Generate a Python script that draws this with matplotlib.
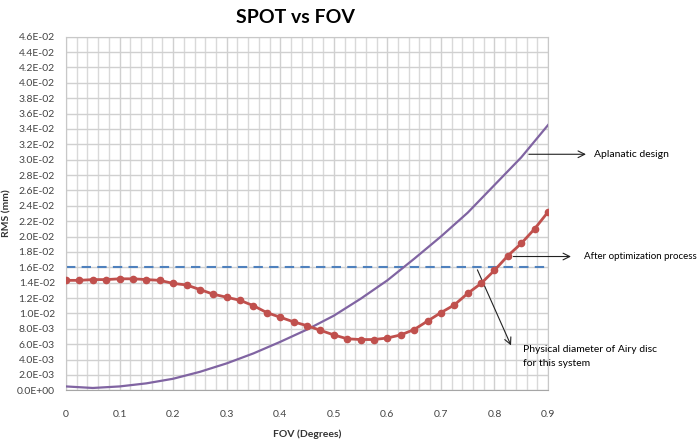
import matplotlib
matplotlib.use('Agg')

import matplotlib.pyplot as plt
import numpy as np
from matplotlib.ticker import MultipleLocator, FuncFormatter

plt.rcParams['font.family'] = ['Lato', 'DejaVu Sans']

# optimized system, one point every 0.025 deg
fov_opt = [0.0, 0.025, 0.05, 0.075, 0.1, 0.125, 0.15, 0.175, 0.2, 0.225,
           0.25, 0.275, 0.3, 0.325, 0.35, 0.375, 0.4, 0.425, 0.45, 0.475,
           0.5, 0.525, 0.55, 0.575, 0.6, 0.625, 0.65, 0.675, 0.7, 0.725,
           0.75, 0.775, 0.8, 0.825, 0.85, 0.875, 0.9]
rms_opt = [0.0143, 0.0143, 0.0144, 0.0144, 0.0145, 0.0145, 0.0144, 0.0143, 0.0139, 0.0137,
           0.0131, 0.0125, 0.0121, 0.0117, 0.0110, 0.0101, 0.0095, 0.0089, 0.0084, 0.0078,
           0.0072, 0.0067, 0.0066, 0.0066, 0.0068, 0.0072, 0.0079, 0.0090, 0.0101, 0.0111,
           0.0126, 0.0139, 0.0156, 0.0175, 0.0191, 0.0210, 0.0232]

# aplanatic design
fov_apl = [0.0, 0.05, 0.1, 0.15, 0.2, 0.25, 0.3, 0.35, 0.4, 0.45,
           0.5, 0.55, 0.6, 0.65, 0.7, 0.75, 0.8, 0.85, 0.9]
rms_apl = [0.0005, 0.0003, 0.0005, 0.0009, 0.0015, 0.0024, 0.0035, 0.0048, 0.0063, 0.0079,
           0.0097, 0.0119, 0.0143, 0.0171, 0.0200, 0.0231, 0.0267, 0.0303, 0.0345]

airy = 0.016

fig = plt.figure(figsize=(7, 4.4), dpi=100)
ax = fig.add_axes([0.0943, 0.113, 0.6886, 0.8037])

ax.plot(fov_apl, rms_apl, color='#8064a2', lw=1.6, zorder=3)
ax.plot(fov_opt, rms_opt, color='#c0504d', lw=2.0, marker='o', markersize=4.5, zorder=4)
ax.plot([0, 0.9], [airy, airy], color='#4f81bd', lw=1.5, dashes=(4.5, 3), zorder=2)

ax.set_xlim(0, 0.9)
ax.set_ylim(0, 0.046)
ax.xaxis.set_major_locator(MultipleLocator(0.1))
ax.xaxis.set_minor_locator(MultipleLocator(0.02))
ax.yaxis.set_major_locator(MultipleLocator(0.002))
ax.xaxis.set_major_formatter(FuncFormatter(lambda v, p: '0' if abs(v) < 1e-9 else f'{v:.1f}'))
ax.yaxis.set_major_formatter(FuncFormatter(lambda v, p: f'{v:.1E}'))

ax.grid(which='major', axis='both', color='#d0d0d0', lw=1.0, zorder=0)
ax.grid(which='minor', axis='x', color='#d9d9d9', lw=1.0, zorder=0)
ax.set_axisbelow(True)
ax.tick_params(which='both', length=0)
ax.tick_params(axis='x', pad=14, labelsize=7.5, colors='#444444')
ax.tick_params(axis='y', pad=8, labelsize=7.5, colors='#444444')
for s in ax.spines.values():
    s.set_color('#c8c8c8')
ax.spines['bottom'].set_color('#a6a6a6')

ax.set_title('SPOT vs FOV', fontsize=14, fontweight='bold', x=0.475, pad=10)
ax.set_xlabel('FOV (Degrees)', fontsize=7.5, fontweight='bold', labelpad=8, color='#333333')
ax.set_ylabel('RMS (mm)', fontsize=7.5, fontweight='bold', labelpad=4, color='#333333')

arrow = dict(arrowstyle='->', color='#222222', lw=0.8, mutation_scale=12)
ax.annotate('', xy=(0.976, 0.0307), xytext=(0.859, 0.0307), arrowprops=arrow,
            annotation_clip=False)
ax.text(0.985, 0.0307, 'Aplanatic design', fontsize=7.5, va='center', ha='left', clip_on=False)

ax.annotate('', xy=(0.948, 0.0174), xytext=(0.830, 0.0174), arrowprops=arrow,
            annotation_clip=False)
fig.text(0.996, 0.0174 / 0.046 * 0.8037 + 0.113, 'After optimization process', fontsize=7,
         va='center', ha='right')

ax.annotate('', xy=(0.833, 0.0055), xytext=(0.766, 0.016), arrowprops=arrow,
            annotation_clip=False)
ax.text(0.853, 0.0044, 'Physical diameter of Airy disc\nfor this system', fontsize=7.5,
        va='center', ha='left', linespacing=1.6, clip_on=False)

plt.savefig('out.png', dpi=100)
